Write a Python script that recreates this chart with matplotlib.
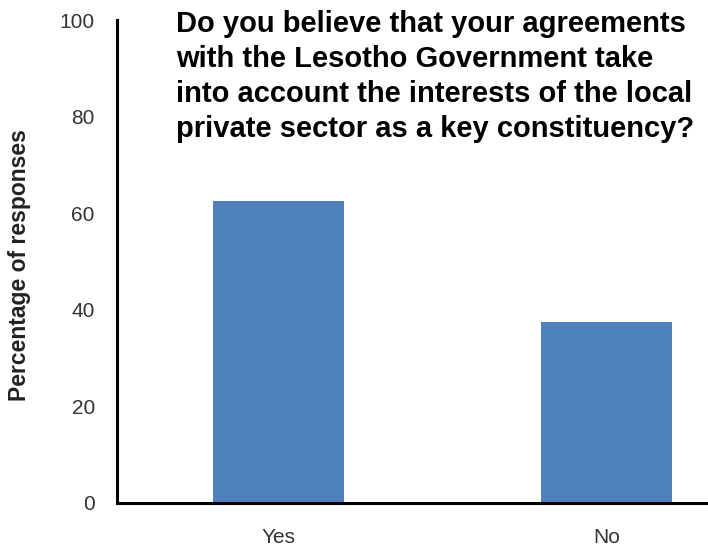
import matplotlib.pyplot as plt

categories = ['Yes', 'No']
percentages = [62.5, 37.5]
yticks = [0, 20, 40, 60, 80, 100]

title = ('Do you believe that your agreements\n'
         'with the Lesotho Government take\n'
         'into account the interests of the local\n'
         'private sector as a key constituency?')

plt.rcParams['font.family'] = ['Liberation Sans', 'DejaVu Sans']

fig = plt.figure(figsize=(7.08, 5.48), dpi=100)
ax = fig.add_axes([117 / 708, 45 / 548, 1 - 117 / 708, 483 / 548])

ax.bar(range(len(categories)), percentages, width=0.4, color='#4F81BD')

ax.set_xlim(-0.494, 1.31)
ax.set_ylim(0, 100)
ax.set_xticks(range(len(categories)))
ax.set_xticklabels(categories)
ax.set_yticks(yticks)
ax.tick_params(axis='both', length=0, labelsize=15, colors='#333333')
ax.tick_params(axis='y', pad=16)
ax.tick_params(axis='x', pad=18)

for s in ['top', 'right']:
    ax.spines[s].set_visible(False)
for s in ['left', 'bottom']:
    ax.spines[s].set_linewidth(2.2)
    ax.spines[s].set_color('black')

fig.text(20 / 708, 1 - 265 / 548, 'Percentage of responses', rotation=90,
         ha='center', va='center', fontsize=16.5, fontweight='bold', color='#222222')
fig.text(176 / 708, 1 - 10 / 548, title, ha='left', va='top',
         fontsize=21, fontweight='bold', color='black', linespacing=1.32)

plt.savefig('out.png', dpi=100)
